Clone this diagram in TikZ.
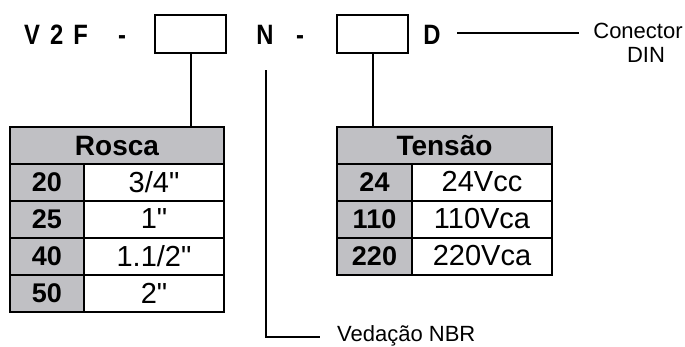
\documentclass[tikz,border=0pt]{standalone}
\usepackage{fontspec}
\setmainfont{Liberation Sans}
\newfontfamily\narrowfont[FakeStretch=0.85]{Liberation Sans}
\usepackage{tikz}

\definecolor{cellgray}{RGB}{192,192,196}

\tikzset{
  codebox/.style={draw, line width=2.6pt, minimum width=71pt, minimum height=38pt, inner sep=0pt},
  head/.style={draw, line width=2pt, fill=cellgray, minimum height=37pt, inner sep=0pt, font=\fontsize{28}{28}\selectfont\bfseries},
  keycell/.style={draw, line width=2pt, fill=cellgray, minimum width=74pt, minimum height=37pt, inner sep=0pt, font=\fontsize{27}{27}\selectfont\bfseries},
  valcell/.style={draw, line width=2pt, fill=white, minimum width=140pt, minimum height=37pt, inner sep=0pt, font=\fontsize{29}{29}\selectfont},
  title/.style={inner sep=0pt, anchor=base, font=\narrowfont\fontsize{28}{28}\selectfont\bfseries},
  note/.style={inner sep=0pt, font=\fontsize{22}{24}\selectfont},
  wire/.style={line width=2pt}
}

\begin{document}
\begin{tikzpicture}[x=1pt, y=-1pt]
\useasboundingbox (0,0) rectangle (685,346);
% code line
\node[title] (v2f) at (56,44) {V\hspace{10pt}2\hspace{10pt}F};
\node[title] (dash1) at (122,44) {-};
\node[codebox] (box1) at (190.5,34) {};
\node[title] (nn) at (265,44) {N};
\node[title] (dash2) at (300,44) {-};
\node[codebox] (box2) at (372.5,34) {};
\node[title] (dd) at (432,44) {D};
\node[note, align=center] (conector) at (638,43) {Conector\\\hspace*{16pt}DIN};
\coordinate (dL) at (457,33);
\coordinate (dR) at (579,33);
\coordinate (nTop) at (265.5,70);
\node[note, anchor=west] (vedacao) at (337,336) {Vedação NBR};
\coordinate (vEnd) at (320,337);

% Rosca
\node[head, minimum width=214pt] (rosca) at (117,145.5) {Rosca};
\node[keycell] (r20) at (47,182) {20};   \node[valcell] (v20) at (154,182) {3/4\textquotedbl};
\node[keycell] (r25) at (47,219) {25};   \node[valcell] (v25) at (154,219) {1\textquotedbl};
\node[keycell] (r40) at (47,256) {40};   \node[valcell] (v40) at (154,256) {1.1/2\textquotedbl};
\node[keycell] (r50) at (47,293) {50};   \node[valcell] (v50) at (154,293) {2\textquotedbl};

% Tensao
\node[head, minimum width=215pt] (tensao) at (444.5,145.5) {Tensão};
\node[keycell, minimum width=75pt] (t24) at (374.5,182) {24};    \node[valcell] (w24) at (482,182) {24Vcc};
\node[keycell, minimum width=75pt] (t110) at (374.5,219) {110};  \node[valcell] (w110) at (482,219) {110Vca};
\node[keycell, minimum width=75pt] (t220) at (374.5,256) {220};  \node[valcell] (w220) at (482,256) {220Vca};

% connectors
\draw[wire] (box1.south) -- (box1.south |- rosca.north);
\draw[wire] (box2.south) -- (box2.south |- tensao.north);
\draw[wire] (dL) -- (dR);
\draw[wire] (nTop) |- (vEnd);
\end{tikzpicture}
\end{document}
